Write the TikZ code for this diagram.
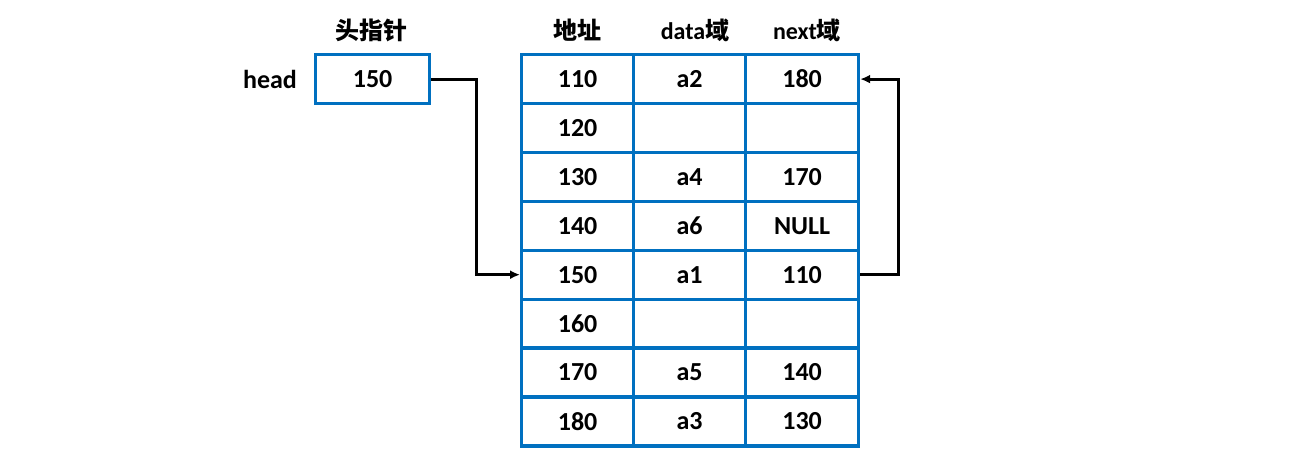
\documentclass[tikz,border=0pt]{standalone}
\usepackage{fontspec}
\setmainfont{Carlito}
\newfontfamily\cjk{Noto Sans CJK SC}
\usetikzlibrary{arrows.meta}
\definecolor{tblue}{HTML}{0070C0}
\tikzset{
  cell/.style={draw=tblue, line width=3.2pt, minimum width=112pt, minimum height=49pt, inner sep=0pt, anchor=north west, font=\fontsize{26}{30}\selectfont\bfseries},
  lbl/.style={font=\fontsize{26}{30}\selectfont\bfseries, inner sep=0pt},
  clbl/.style={font=\fontsize{24}{28}\selectfont\bfseries, inner sep=0pt},
  link/.style={line width=3pt, -{Latex[length=10pt,width=9pt]}}
}
\begin{document}
\begin{tikzpicture}[x=1pt,y=-1pt]
\useasboundingbox (0,0) rectangle (1289,465);
% head pointer
\node[cell, minimum width=114pt] (hp) at (314,53) {150};
\node[lbl] (hl) at (270,79) {head};
\node[clbl] (ht) at (371,30) {\cjk 头指针};
% headers
\node[clbl] (h1) at (577,30) {\cjk 地址};
\node[clbl] (h2) at (695,30) {data\cjk 域};
\node[clbl] (h3) at (807,30) {next\cjk 域};
% table
\foreach \i/\a/\d/\n in {1/110/a2/180, 2/120//, 3/130/a4/170, 4/140/a6/NULL, 5/150/a1/110, 6/160//, 7/170/a5/140, 8/180/a3/130}{
  \node[cell] (a\i) at (520,{53+(\i-1)*48.9}) {\a};
  \node[cell] (d\i) at (632,{53+(\i-1)*48.9}) {\d};
  \node[cell, minimum width=113pt] (n\i) at (744,{53+(\i-1)*48.9}) {\n};
}
% arrows
\draw[link] (hp.east) -- ++(45,0) |- (a5.west);
\draw[link] (n5.east) -- ++(38,0) |- (n1.east);
\end{tikzpicture}
\end{document}
